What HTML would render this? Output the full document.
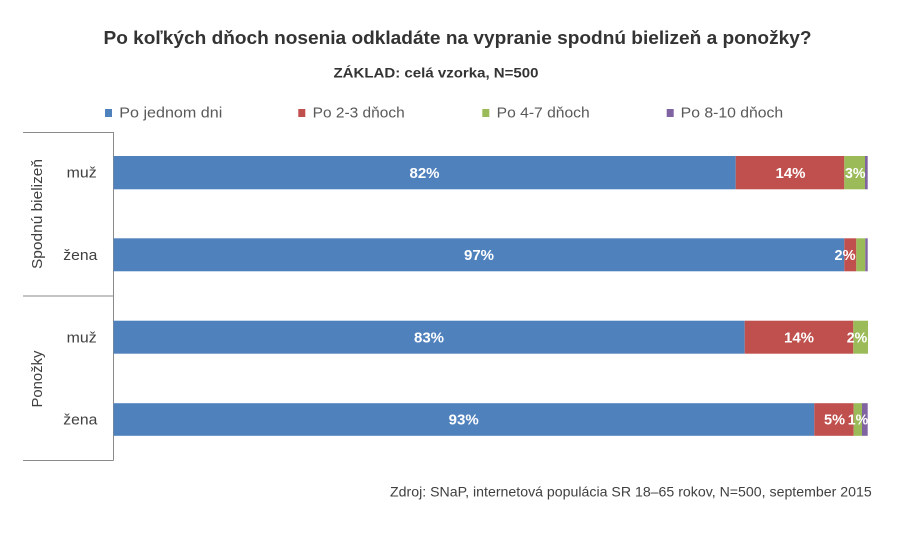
<!DOCTYPE html>
<html>
<head>
<meta charset="utf-8">
<style>
  html,body{margin:0;padding:0;background:#fff;}
  svg{display:block;}
  text{font-family:"Liberation Sans",Arial,sans-serif;}
</style>
</head>
<body>
<svg width="903" height="549" viewBox="0 0 903 549" xmlns="http://www.w3.org/2000/svg">
  <rect x="0" y="0" width="903" height="549" fill="#ffffff"/>

  <!-- Title -->
  <text x="103.5" y="44" font-size="18.5" font-weight="bold" fill="#333333" textLength="708" lengthAdjust="spacingAndGlyphs">Po koľkých dňoch nosenia odkladáte na vypranie spodnú bielizeň a ponožky?</text>
  <text x="333.5" y="77.3" font-size="13.5" font-weight="bold" fill="#333333" textLength="205" lengthAdjust="spacingAndGlyphs">ZÁKLAD: celá vzorka, N=500</text>

  <!-- Legend -->
  <rect x="105" y="109" width="7" height="8" fill="#4F81BD"/>
  <text x="119.3" y="117.3" font-size="14.5" fill="#595959" textLength="103" lengthAdjust="spacingAndGlyphs">Po jednom dni</text>
  <rect x="298.3" y="109" width="7" height="8" fill="#C0504D"/>
  <text x="312.7" y="117.3" font-size="14.5" fill="#595959" textLength="92" lengthAdjust="spacingAndGlyphs">Po 2-3 dňoch</text>
  <rect x="482.3" y="109" width="7" height="8" fill="#9BBB59"/>
  <text x="496.7" y="117.3" font-size="14.5" fill="#595959" textLength="93" lengthAdjust="spacingAndGlyphs">Po 4-7 dňoch</text>
  <rect x="666.7" y="109" width="7" height="8" fill="#8064A2"/>
  <text x="680.7" y="117.3" font-size="14.5" fill="#595959" textLength="102.5" lengthAdjust="spacingAndGlyphs">Po 8-10 dňoch</text>

  <!-- Axis lines -->
  <g stroke="#8a8a8a" stroke-width="1" fill="none">
    <line x1="113.5" y1="132" x2="113.5" y2="460.5"/>
    <line x1="23" y1="132.5" x2="113.5" y2="132.5"/>
    <line x1="23" y1="296" x2="113.5" y2="296"/>
    <line x1="23" y1="460.5" x2="113.5" y2="460.5"/>
  </g>

  <!-- Category labels -->
  <g font-size="15" fill="#404040" text-anchor="end">
    <text x="96.7" y="177.6" textLength="30" lengthAdjust="spacingAndGlyphs">muž</text>
    <text x="97.3" y="260" textLength="34" lengthAdjust="spacingAndGlyphs">žena</text>
    <text x="96.7" y="342.3" textLength="30" lengthAdjust="spacingAndGlyphs">muž</text>
    <text x="97.3" y="424.6" textLength="34" lengthAdjust="spacingAndGlyphs">žena</text>
  </g>
  <text transform="translate(42,214) rotate(-90)" font-size="15" fill="#404040" text-anchor="middle" textLength="110" lengthAdjust="spacingAndGlyphs">Spodnú bielizeň</text>
  <text transform="translate(42,379) rotate(-90)" font-size="15" fill="#404040" text-anchor="middle" textLength="57" lengthAdjust="spacingAndGlyphs">Ponožky</text>

  <!-- Bar 1: Spodnú bielizeň muž -->
  <rect x="113.5" y="156" width="622.2" height="33.3" fill="#4F81BD"/>
  <rect x="735.7" y="156" width="108.6" height="33.3" fill="#C0504D"/>
  <rect x="844.3" y="156" width="20.7" height="33.3" fill="#9BBB59"/>
  <rect x="865" y="156" width="2.7" height="33.3" fill="#8064A2"/>

  <!-- Bar 2: Spodnú bielizeň žena -->
  <rect x="113.5" y="238.3" width="730.8" height="33" fill="#4F81BD"/>
  <rect x="844.3" y="238.3" width="12" height="33" fill="#C0504D"/>
  <rect x="856.3" y="238.3" width="9" height="33" fill="#9BBB59"/>
  <rect x="865.3" y="238.3" width="2.4" height="33" fill="#8064A2"/>

  <!-- Bar 3: Ponožky muž -->
  <rect x="113.5" y="320.7" width="631.2" height="33" fill="#4F81BD"/>
  <rect x="744.7" y="320.7" width="108.6" height="33" fill="#C0504D"/>
  <rect x="853.3" y="320.7" width="14.7" height="33" fill="#9BBB59"/>

  <!-- Bar 4: Ponožky žena -->
  <rect x="113.5" y="403.2" width="700.8" height="32.6" fill="#4F81BD"/>
  <rect x="814.3" y="403.2" width="39.4" height="32.6" fill="#C0504D"/>
  <rect x="853.7" y="403.2" width="8.3" height="32.6" fill="#9BBB59"/>
  <rect x="862" y="403.2" width="5.7" height="32.6" fill="#8064A2"/>

  <!-- Data labels -->
  <g font-size="15" font-weight="bold" fill="#ffffff" text-anchor="middle">
    <text x="424.5" y="178">82%</text>
    <text x="790.5" y="178">14%</text>
    <text x="855.3" y="178" textLength="20.5" lengthAdjust="spacingAndGlyphs">3%</text>

    <text x="479" y="260">97%</text>
    <text x="845" y="260" textLength="21" lengthAdjust="spacingAndGlyphs">2%</text>

    <text x="429" y="342.3">83%</text>
    <text x="799" y="342.3">14%</text>
    <text x="857" y="342.3" textLength="20.5" lengthAdjust="spacingAndGlyphs">2%</text>

    <text x="463.7" y="424.6">93%</text>
    <text x="834.5" y="424.6" textLength="21" lengthAdjust="spacingAndGlyphs">5%</text>
    <text x="858" y="424.6" textLength="20.5" lengthAdjust="spacingAndGlyphs">1%</text>
  </g>

  <!-- Footer -->
  <text x="390" y="496.7" font-size="14" fill="#404040" textLength="481.7" lengthAdjust="spacingAndGlyphs">Zdroj: SNaP, internetová populácia SR 18–65 rokov, N=500, september 2015</text>
</svg>
</body>
</html>
